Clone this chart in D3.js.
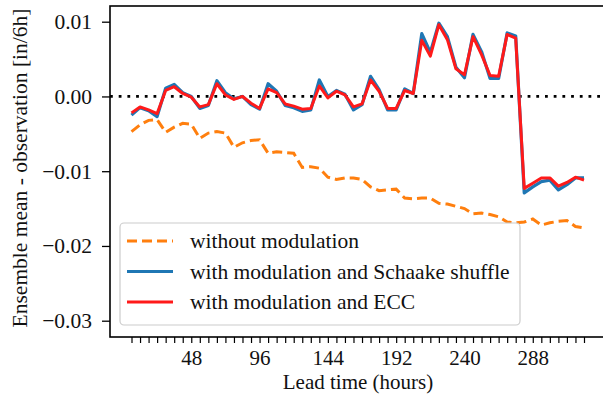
<!DOCTYPE html>
<html><head><meta charset="utf-8">
<script src="https://cdn.jsdelivr.net/npm/d3@7"></script>
<style>body{margin:0;background:#fff}svg{display:block}text{font-family:"Liberation Serif","Times New Roman",serif;fill:#111}</style>
</head><body><svg id="c" width="603" height="401"></svg>
<script>
const hours = d3.range(6, 325, 6);
const withoutModulation = [-0.0047,-0.0038,-0.0032,-0.0031,-0.0048,-0.0041,-0.0036,-0.0037,-0.0056,-0.0049,-0.0047,-0.0049,-0.0068,-0.0062,-0.0059,-0.0058,-0.0076,-0.0074,-0.0075,-0.0076,-0.0095,-0.0094,-0.0096,-0.0108,-0.0111,-0.0109,-0.0109,-0.0111,-0.0121,-0.0126,-0.0125,-0.0124,-0.0136,-0.0137,-0.0136,-0.0136,-0.0143,-0.0144,-0.0147,-0.0150,-0.0157,-0.0156,-0.0158,-0.0161,-0.0168,-0.0169,-0.0168,-0.0164,-0.0172,-0.0169,-0.0167,-0.0166,-0.0174,-0.0176];
const schaake = [-0.0025,-0.0015,-0.0019,-0.0027,0.0011,0.0016,0.0005,0.0000,-0.0016,-0.0012,0.0021,0.0005,-0.0003,0.0000,-0.0011,-0.0017,0.0017,0.0007,-0.0012,-0.0015,-0.0020,-0.0018,0.0022,0.0000,0.0008,0.0003,-0.0018,-0.0011,0.0027,0.0009,-0.0018,-0.0018,0.0010,0.0004,0.0084,0.0059,0.0098,0.0080,0.0039,0.0025,0.0083,0.0060,0.0024,0.0024,0.0085,0.0081,-0.0129,-0.0121,-0.0114,-0.0112,-0.0125,-0.0118,-0.0109,-0.0109];
const ecc = [-0.0022,-0.0014,-0.0018,-0.0023,0.0008,0.0013,0.0004,-0.0001,-0.0014,-0.0011,0.0017,0.0002,-0.0004,0.0000,-0.0009,-0.0016,0.0010,0.0005,-0.0010,-0.0013,-0.0017,-0.0016,0.0014,-0.0002,0.0007,0.0002,-0.0014,-0.0010,0.0022,0.0007,-0.0016,-0.0016,0.0008,0.0004,0.0075,0.0054,0.0096,0.0076,0.0037,0.0029,0.0080,0.0056,0.0028,0.0027,0.0083,0.0078,-0.0123,-0.0116,-0.0109,-0.0109,-0.0120,-0.0115,-0.0108,-0.0112];
const yTicks = [0.01, 0.00, -0.01, -0.02, -0.03];
const xLabelTicks = [48, 96, 144, 192, 240, 288];
const seriesNames = ["without modulation", "with modulation and Schaake shuffle", "with modulation and ECC"];

const svg = d3.select("#c");
const L = 110, T = 6, R = 605, B = 337;
const x = d3.scaleLinear().domain([6, 324]).range([131.5, 584]);
const y = d3.scaleLinear().domain([-0.03, 0.01]).range([320.7, 21.7]);
const FS = 21.5;

// zero line
svg.append("line").attr("x1", L).attr("x2", R).attr("y1", y(0)).attr("y2", y(0))
  .attr("stroke", "#000").attr("stroke-width", 2.8).attr("stroke-dasharray", "2.8,5.9").attr("stroke-linecap", "butt");

const line = d3.line().x((d, i) => x(hours[i])).y(d => y(d));
svg.append("path").datum(withoutModulation).attr("d", line).attr("fill", "none")
  .attr("stroke", "#ff7f0e").attr("stroke-width", 3).attr("stroke-dasharray", "10,5");
svg.append("path").datum(schaake).attr("d", line).attr("fill", "none")
  .attr("stroke", "#1f77b4").attr("stroke-width", 3.2).attr("stroke-linejoin", "round");
svg.append("path").datum(ecc).attr("d", line).attr("fill", "none")
  .attr("stroke", "#ff1a1a").attr("stroke-width", 3).attr("stroke-linejoin", "round");

// frame
svg.append("rect").attr("x", L).attr("y", T).attr("width", R - L).attr("height", B - T)
  .attr("fill", "none").attr("stroke", "#000").attr("stroke-width", 1.6);

// y axis
const yAxis = d3.axisLeft(y).tickValues(yTicks).tickSize(8).tickPadding(10).tickFormat(d3.format(".2f"));
const gy = svg.append("g").attr("transform", `translate(${L},0)`).call(yAxis);
gy.select(".domain").remove();
gy.selectAll("line").attr("stroke", "#000").attr("stroke-width", 1.3);
gy.selectAll("text").style("font-size", FS + "px").attr("fill", "#111");

// x axis
const xAxis = d3.axisBottom(x).tickValues(hours).tickSize(6).tickPadding(7)
  .tickFormat(d => xLabelTicks.includes(d) ? d : "");
const gx = svg.append("g").attr("transform", `translate(0,${B})`).call(xAxis);
gx.select(".domain").remove();
gx.selectAll("line").attr("stroke", "#000").attr("stroke-width", 1.2);
gx.selectAll("text").filter(d => !xLabelTicks.includes(d)).remove();
gx.selectAll("text").style("font-size", "21px").attr("fill", "#111");

svg.append("text").attr("x", 358).attr("y", 389).attr("text-anchor", "middle")
  .style("font-size", "21px").text("Lead time (hours)");
svg.append("text").attr("transform", "translate(27,168) rotate(-90)").attr("text-anchor", "middle")
  .style("font-size", FS + "px").text("Ensemble mean - observation [in/6h]");

// legend
const lg = svg.append("g");
lg.append("rect").attr("x", 120).attr("y", 223).attr("width", 400).attr("height", 102).attr("rx", 4)
  .attr("fill", "rgba(255,255,255,0.85)").attr("stroke", "#cccccc").attr("stroke-width", 1.2);
const colors = ["#ff7f0e", "#1f77b4", "#ff1a1a"];
const dashes = ["10,5", null, null];
seriesNames.forEach((n, i) => {
  const yy = 241 + i * 30.5;
  lg.append("line").attr("x1", 127).attr("x2", 173).attr("y1", yy).attr("y2", yy)
    .attr("stroke", colors[i]).attr("stroke-width", 3).attr("stroke-dasharray", dashes[i]);
  lg.append("text").attr("x", 190).attr("y", yy + 7).style("font-size", FS + "px").text(n);
});
</script></body></html>
